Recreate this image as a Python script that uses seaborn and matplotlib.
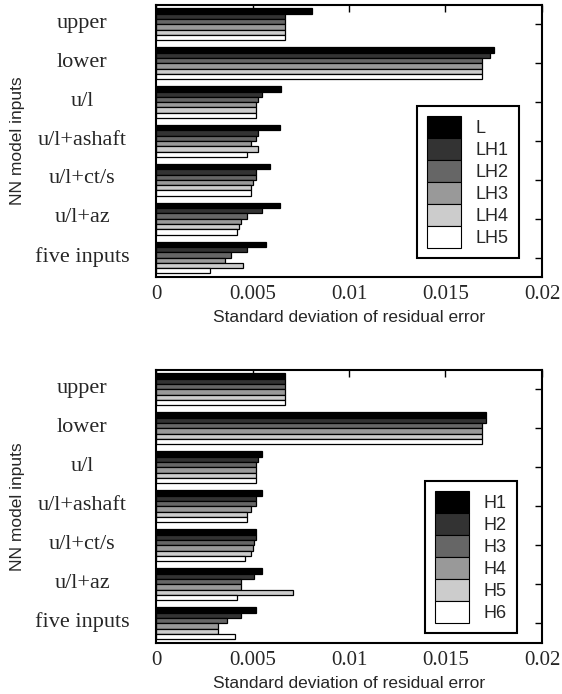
import numpy as np
import pandas as pd
import matplotlib
matplotlib.use("Agg")
import matplotlib.pyplot as plt
import matplotlib.transforms as mtransforms
from matplotlib.patches import Patch
import seaborn as sns

# Input combinations fed to the NN models (top to bottom)
inputs = ["upper", "lower", "u/l", "u/l+ashaft", "u/l+ct/s", "u/l+az", "five inputs"]

# Upper panel: L / LH model families
lh_models = ["L", "LH1", "LH2", "LH3", "LH4", "LH5"]
l_std   = [0.0081, 0.0175, 0.0065, 0.0064, 0.0059, 0.0064, 0.0057]
lh1_std = [0.0067, 0.0173, 0.0055, 0.0053, 0.0052, 0.0055, 0.0047]
lh2_std = [0.0067, 0.0169, 0.0053, 0.0052, 0.0052, 0.0047, 0.0039]
lh3_std = [0.0067, 0.0169, 0.0052, 0.0049, 0.0050, 0.0044, 0.0036]
lh4_std = [0.0067, 0.0169, 0.0052, 0.0053, 0.0049, 0.0043, 0.0045]
lh5_std = [0.0067, 0.0169, 0.0052, 0.0047, 0.0049, 0.0042, 0.0028]

# Lower panel: H model families
h_models = ["H1", "H2", "H3", "H4", "H5", "H6"]
h1_std = [0.0067, 0.0171, 0.0055, 0.0055, 0.0052, 0.0055, 0.0052]
h2_std = [0.0067, 0.0171, 0.0053, 0.0052, 0.0052, 0.0051, 0.0044]
h3_std = [0.0067, 0.0169, 0.0052, 0.0052, 0.0051, 0.0044, 0.0037]
h4_std = [0.0067, 0.0169, 0.0052, 0.0049, 0.0050, 0.0044, 0.0032]
h5_std = [0.0067, 0.0169, 0.0052, 0.0047, 0.0049, 0.0071, 0.0032]
h6_std = [0.0067, 0.0169, 0.0052, 0.0047, 0.0046, 0.0042, 0.0041]

x_ticks = [0, 0.005, 0.01, 0.015, 0.02]
x_tick_labels = ["0", "0.005", "0.01", "0.015", "0.02"]

grays = ["#000000", "#333333", "#666666", "#999999", "#cccccc", "#ffffff"]

sns.set_style("white")
plt.rcParams["font.family"] = ["Liberation Sans", "DejaVu Sans"]

SERIF = "Liberation Serif"


def draw_panel(fig, ax, models, series, anchor):
    df = pd.DataFrame({
        "input": np.tile(inputs, len(models)),
        "model": np.repeat(models, len(inputs)),
        "std": np.concatenate(series),
    })
    sns.barplot(data=df, y="input", x="std", hue="model", order=inputs,
                hue_order=models, palette=grays, orient="h", width=0.82,
                edgecolor="black", linewidth=0.9, saturation=1,
                errorbar=None, legend=False, ax=ax)

    ax.set_xlim(0, 0.02)
    ax.set_ylim(6.5, -0.5)
    ax.set_xticks(x_ticks)
    ax.set_xticklabels(x_tick_labels, fontfamily=SERIF, fontsize=15)
    ax.set_yticks(range(len(inputs)))
    ax.set_yticklabels(inputs, fontfamily=SERIF, fontsize=16, ha="center")
    ax.tick_params(axis="both", direction="in", top=True, right=True,
                   length=5, width=1.0, color="black")
    ax.tick_params(axis="y", pad=53)
    ax.tick_params(axis="x", pad=6)
    # category names sit a touch above their tick marks
    lift = mtransforms.ScaledTranslation(0, 2.5 / 72, fig.dpi_scale_trans)
    for lbl in ax.get_yticklabels():
        lbl.set_transform(lbl.get_transform() + lift)
    for s in ax.spines.values():
        s.set_linewidth(1.5)
        s.set_color("black")

    ax.set_xlabel("Standard deviation of residual error", fontsize=12.5,
                  labelpad=4)
    ax.set_ylabel("NN model inputs", fontsize=12.5)
    ax.yaxis.set_label_coords(-0.34, 0.5)

    handles = [Patch(facecolor=c, edgecolor="black", linewidth=0.8, label=m)
               for c, m in zip(grays, models)]
    leg = ax.legend(handles=handles, loc="lower right", bbox_to_anchor=anchor,
                    fontsize=13, frameon=True, fancybox=False,
                    handlelength=1.85, handleheight=1.5, labelspacing=0.0,
                    handletextpad=0.85, borderpad=0.55, borderaxespad=0.0)
    frame = leg.get_frame()
    frame.set_edgecolor("black")
    frame.set_linewidth(1.5)
    frame.set_alpha(1)


fig = plt.figure(figsize=(5.62, 6.94), dpi=100)
ax_top = fig.add_axes([0.2776, 0.6009, 0.6868, 0.3919])
ax_bot = fig.add_axes([0.2776, 0.0735, 0.6868, 0.3934])

draw_panel(fig, ax_top, lh_models,
           [l_std, lh1_std, lh2_std, lh3_std, lh4_std, lh5_std], (0.94, 0.07))
draw_panel(fig, ax_bot, h_models,
           [h1_std, h2_std, h3_std, h4_std, h5_std, h6_std], (0.935, 0.037))

fig.savefig("out.png", dpi=100)
